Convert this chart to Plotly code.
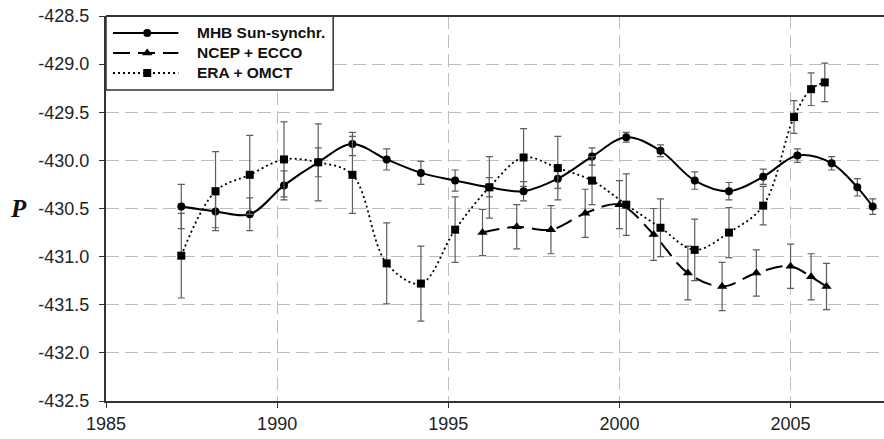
import plotly.graph_objects as go

# MHB Sun-synchronous solution
years_mhb = [1987.2, 1988.2, 1989.2, 1990.2, 1991.2, 1992.2, 1993.2, 1994.2, 1995.2,
             1996.2, 1997.2, 1998.2, 1999.2, 2000.2, 2001.2, 2002.2, 2003.2, 2004.2,
             2005.2, 2006.2, 2006.95, 2007.4]
p_mhb = [-430.48, -430.53, -430.56, -430.26, -430.02, -429.83, -429.99, -430.13, -430.21,
         -430.28, -430.32, -430.19, -429.96, -429.76, -429.90, -430.21, -430.32, -430.17,
         -429.95, -430.03, -430.28, -430.48]
err_mhb = [0.23, 0.17, 0.17, 0.15, 0.15, 0.12, 0.11, 0.12, 0.11, 0.10, 0.10, 0.10,
           0.09, 0.05, 0.06, 0.09, 0.09, 0.08, 0.07, 0.07, 0.09, 0.08]

# NCEP + ECCO
years_ncep = [1996.0, 1997.0, 1998.0, 1999.0, 2000.0, 2001.0, 2002.0, 2003.0, 2004.0,
              2005.0, 2005.6, 2006.05]
p_ncep = [-430.75, -430.69, -430.72, -430.55, -430.46, -430.77, -431.17, -431.31,
          -431.17, -431.10, -431.21, -431.31]
err_ncep = [0.24, 0.23, 0.25, 0.25, 0.25, 0.27, 0.28, 0.25, 0.24, 0.23, 0.24, 0.24]

# ERA + OMCT
years_era = [1987.2, 1988.2, 1989.2, 1990.2, 1991.2, 1992.2, 1993.2, 1994.2, 1995.2,
             1996.2, 1997.2, 1998.2, 1999.2, 2000.2, 2001.2, 2002.2, 2003.2, 2004.2,
             2005.1, 2005.6, 2006.0]
p_era = [-430.99, -430.32, -430.15, -429.99, -430.02, -430.15, -431.07, -431.28, -430.72,
         -430.28, -429.97, -430.08, -430.21, -430.46, -430.70, -430.93, -430.75, -430.47,
         -429.55, -429.26, -429.19]
err_era = [0.44, 0.41, 0.41, 0.39, 0.40, 0.40, 0.42, 0.39, 0.34, 0.32, 0.30, 0.33,
           0.25, 0.32, 0.30, 0.32, 0.26, 0.20, 0.17, 0.17, 0.20]

series_names = ["MHB Sun-synchr.", "NCEP + ECCO", "ERA + OMCT"]
x_ticks = [1985, 1990, 1995, 2000, 2005]
y_ticks = [-432.5, -432.0, -431.5, -431.0, -430.5, -430.0, -429.5, -429.0, -428.5]

ERR_COLOR = "#5e5e5e"
styles = [
    dict(line=dict(color="black", width=2), marker=dict(symbol="circle", size=8, color="black")),
    dict(line=dict(color="black", width=2, dash="17px,8px"),
         marker=dict(symbol="triangle-up", size=9, color="black")),
    dict(line=dict(color="black", width=1.8, dash="2px,3px"),
         marker=dict(symbol="square", size=8, color="black")),
]


def err(vals):
    return dict(type="data", array=vals, visible=True, color=ERR_COLOR,
                thickness=1.2, width=3.5)


fig = go.Figure()

for (xs, ys, es), name, st in zip(
        [(years_mhb, p_mhb, err_mhb), (years_ncep, p_ncep, err_ncep), (years_era, p_era, err_era)],
        series_names, styles):
    fig.add_trace(go.Scatter(
        x=xs, y=ys, name=name, mode="lines+markers", showlegend=False,
        line=dict(shape="spline", smoothing=1.0, **st["line"]),
        marker=st["marker"], error_y=err(es)))

# ---- legend box drawn on an overlay axis spanning the plot area (0..1) ----
box_x1, box_y0 = 0.292, 0.808
fig.add_trace(go.Scatter(
    x=[0, box_x1, box_x1, 0, 0], y=[box_y0, box_y0, 1, 1, box_y0],
    xaxis="x2", yaxis="y2", mode="lines", fill="toself", fillcolor="white",
    line=dict(color="#333", width=1.5), hoverinfo="skip", showlegend=False))

row_y = [0.956, 0.904, 0.852]
for ry, name, st in zip(row_y, series_names, styles):
    fig.add_trace(go.Scatter(
        x=[0.009, 0.093], y=[ry, ry], xaxis="x2", yaxis="y2", mode="lines",
        line=st["line"], hoverinfo="skip", showlegend=False))
    fig.add_trace(go.Scatter(
        x=[0.053], y=[ry], xaxis="x2", yaxis="y2", mode="markers",
        marker=st["marker"], hoverinfo="skip", showlegend=False))
    fig.add_annotation(
        x=0.114, y=ry, xref="x2", yref="y2", xanchor="left", yanchor="middle",
        text=f"<b>{name}</b>", showarrow=False,
        font=dict(family="Liberation Sans, Arial, sans-serif", size=15.5, color="#111"))

axis_font = dict(family="Liberation Sans, Arial, sans-serif", size=18, color="#222")
grid = dict(showgrid=True, gridcolor="#bdbdbd", gridwidth=1.2, griddash="13px,6px")

fig.update_xaxes(
    range=[1985, 2007.73], tickvals=x_ticks, ticktext=[str(v) for v in x_ticks],
    showline=True, linecolor="#333", linewidth=2, ticks="outside", ticklen=5,
    tickcolor="#333", tickfont=axis_font, zeroline=False, **grid)
fig.update_yaxes(
    range=[-432.5, -428.5], tickvals=y_ticks, ticktext=[f"{v:.1f}" for v in y_ticks],
    showline=True, linecolor="#333", linewidth=2, ticks="outside", ticklen=5,
    tickcolor="#333", tickfont=axis_font, zeroline=False, ticklabelstandoff=6, **grid)

# y-axis symbol, upright
fig.add_annotation(
    x=-0.112, y=0.5, xref="paper", yref="paper", xanchor="center", yanchor="middle",
    text="<b><i>P</i></b>", showarrow=False,
    font=dict(family="Liberation Serif, Times New Roman, serif", size=25, color="#111"))

# top frame line
fig.add_shape(type="line", xref="paper", yref="paper", x0=0, x1=1, y0=1, y1=1,
              line=dict(color="#333", width=2))

fig.update_layout(
    width=884, height=439,
    margin=dict(l=106, r=0, t=16, b=38),
    paper_bgcolor="white", plot_bgcolor="white",
    showlegend=False,
    xaxis2=dict(overlaying="x", range=[0, 1], visible=False, fixedrange=True),
    yaxis2=dict(overlaying="y", range=[0, 1], visible=False, fixedrange=True),
)

fig.write_html("out.html")
